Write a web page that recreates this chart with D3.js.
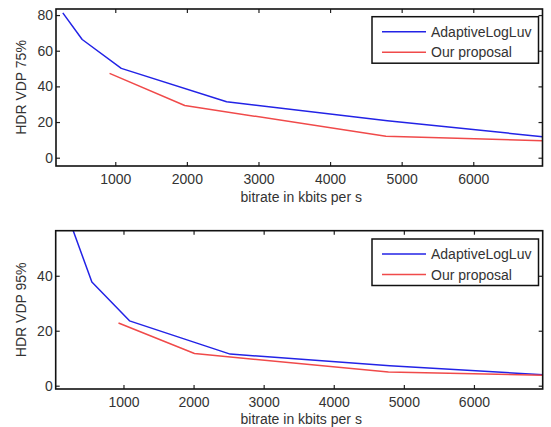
<!DOCTYPE html>
<html>
<head>
<meta charset="utf-8">
<script src="https://cdn.jsdelivr.net/npm/d3@7"></script>
<style>
  body { margin: 0; background: #fff; }
  svg text { font-family: "Liberation Sans", Arial, sans-serif; font-size: 14px; fill: #333; }
</style>
</head>
<body>
<div id="chart"></div>
<script>
// data (bitrate in kbits/s, HDR VDP %)
let seriesNames = ["AdaptiveLogLuv", "Our proposal"];
let seriesColors = ["#2323e6", "#f04a4a"];

let xTicks = [1000, 2000, 3000, 4000, 5000, 6000];

// panel 1: HDR VDP 75%
let blue75 = [[267, 81.2], [538, 66.3], [1084, 50.1], [2555, 31.4], [4800, 20.7], [6967, 11.8]];
let red75  = [[920, 47.3], [1970, 29.3], [4780, 12.0], [6967, 9.5]];
let yTicks75 = [0, 20, 40, 60, 80];

// panel 2: HDR VDP 95%
let blue95 = [[267, 57.5], [549, 37.7], [1086, 23.6], [2522, 11.5], [4800, 7.3], [6981, 4.0]];
let red95  = [[929, 22.8], [2013, 11.7], [4780, 5.0], [6981, 3.8]];
let yTicks95 = [0, 20, 40];

let svg = d3.select("#chart")
  .append("svg")
    .attr("width", 551)
    .attr("height", 427);

function drawPanel(opts) {
  let x = d3.scaleLinear().domain(opts.xDomain).range([opts.left, opts.right]);
  let y = d3.scaleLinear().domain(opts.yDomain).range([opts.bottom, opts.top]);

  let g = svg.append("g");

  let clipId = "clip" + opts.id;
  g.append("clipPath").attr("id", clipId)
    .append("rect")
      .attr("x", opts.left).attr("y", opts.top)
      .attr("width", opts.right - opts.left).attr("height", opts.bottom - opts.top);

  // lines
  let line = d3.line().x(d => x(d[0])).y(d => y(d[1]));
  opts.series.forEach((s, i) => {
    g.append("path")
      .datum(s)
      .attr("clip-path", "url(#" + clipId + ")")
      .attr("fill", "none")
      .attr("stroke", seriesColors[i])
      .attr("stroke-width", 1.5)
      .attr("stroke-linejoin", "round")
      .attr("d", line);
  });

  // axes, ticks pointing inward
  let fmt = d3.format("d");
  let bottomAxis = g.append("g")
    .attr("transform", "translate(0," + opts.bottom + ")")
    .call(d3.axisBottom(x).tickValues(xTicks).tickSize(-4).tickPadding(8).tickFormat(fmt));
  let topAxis = g.append("g")
    .attr("transform", "translate(0," + opts.top + ")")
    .call(d3.axisTop(x).tickValues(xTicks).tickSize(-4).tickFormat(""));
  let leftAxis = g.append("g")
    .attr("transform", "translate(" + opts.left + ",0)")
    .call(d3.axisLeft(y).tickValues(opts.yTicks).tickSize(-4).tickPadding(3).tickFormat(fmt));
  let rightAxis = g.append("g")
    .attr("transform", "translate(" + opts.right + ",0)")
    .call(d3.axisRight(y).tickValues(opts.yTicks).tickSize(-4).tickFormat(""));

  [bottomAxis, topAxis, leftAxis, rightAxis].forEach(a => {
    a.select(".domain").remove();
    a.selectAll("line").attr("stroke", "#222").attr("stroke-width", 1.2);
    a.selectAll("text").attr("fill", null);
    a.attr("font-size", null).attr("font-family", null);
  });

  // box
  g.append("rect")
    .attr("x", opts.left).attr("y", opts.top)
    .attr("width", opts.right - opts.left).attr("height", opts.bottom - opts.top)
    .attr("fill", "none")
    .attr("stroke", "#111")
    .attr("stroke-width", 1.6);

  // axis titles
  g.append("text")
    .attr("x", (opts.left + opts.right) / 2 + 2)
    .attr("y", opts.xLabelY)
    .attr("text-anchor", "middle")
    .text("bitrate in kbits per s");

  g.append("text")
    .attr("transform", "translate(26," + ((opts.top + opts.bottom) / 2) + ") rotate(-90)")
    .attr("text-anchor", "middle")
    .text(opts.yLabel);

  // legend
  let lg = g.append("g").attr("transform", "translate(372," + opts.legendTop + ")");
  lg.append("rect")
    .attr("width", 166.5).attr("height", 46.5)
    .attr("fill", "#fff")
    .attr("stroke", "#111")
    .attr("stroke-width", 1.5);
  seriesNames.forEach((name, i) => {
    let rowY = 15 + i * 20.5;
    lg.append("line")
      .attr("x1", 10).attr("x2", 54)
      .attr("y1", rowY).attr("y2", rowY)
      .attr("stroke", seriesColors[i])
      .attr("stroke-width", 1.5);
    lg.append("text")
      .attr("x", 59).attr("y", rowY + 5)
      .text(name);
  });
}

drawPanel({
  id: 1,
  left: 56, right: 542.5, top: 9, bottom: 166,
  xDomain: [172, 6967], yDomain: [-4.65, 83.4],
  yTicks: yTicks75,
  series: [blue75, red75],
  yLabel: "HDR VDP 75%",
  xLabelY: 202,
  legendTop: 16.7
});

drawPanel({
  id: 2,
  left: 55.7, right: 542.7, top: 230.7, bottom: 389,
  xDomain: [33, 6981], yDomain: [-1.2, 56.4],
  yTicks: yTicks95,
  series: [blue95, red95],
  yLabel: "HDR VDP 95%",
  xLabelY: 424,
  legendTop: 239
});
</script>
</body>
</html>
